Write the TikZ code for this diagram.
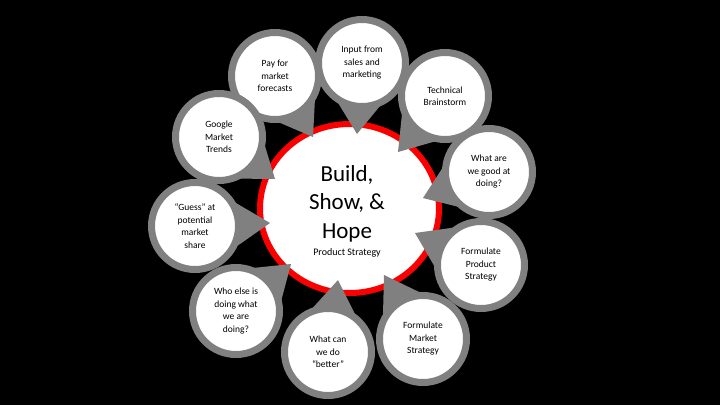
\documentclass[tikz,border=0pt]{standalone}
\usepackage{fontspec}
\setmainfont{Carlito}
\usetikzlibrary{calc,shapes.geometric}
\definecolor{ringgray}{RGB}{128,128,128}
\definecolor{ringred}{RGB}{250,0,0}

\begin{document}
\begin{tikzpicture}[x=1pt,y=-1pt,
    bubble/.style={circle,draw=ringgray,line width=7pt,fill=white,minimum size=87pt,inner sep=0pt,align=center,font=\fontsize{9.5}{12.5}\selectfont},
    wedge/.style={fill=ringgray}]
    \fill[black] (0,0) rectangle (720,405);
    \node[ellipse,draw=ringred,line width=6pt,fill=white,minimum width=179pt,minimum height=169pt] (core) at (349.5,208.5) {};
    \node[align=center,font=\fontsize{23}{28.5}\selectfont] (title) at (347,203.5) {Build,\\Show, \&\\Hope};
    \node[font=\fontsize{10}{12}\selectfont] (sub) at (347,253) {Product Strategy};
    \coordinate (payC) at (275,76);     \coordinate (payTip) at (313,137);
    \coordinate (inputC) at (362,63);   \coordinate (inputTip) at (357,134);
    \coordinate (techC) at (445,96);    \coordinate (techTip) at (398,152);
    \coordinate (goodC) at (489,172);   \coordinate (goodTip) at (423,198);
    \coordinate (prodC) at (481,265);   \coordinate (prodTip) at (415,233);
    \coordinate (mktC) at (423,339);    \coordinate (mktTip) at (384,275);
    \coordinate (betterC) at (328,352); \coordinate (betterTip) at (338,280);
    \coordinate (whoC) at (236,311);    \coordinate (whoTip) at (291,264);
    \coordinate (guessC) at (195,226);  \coordinate (guessTip) at (270,223);
    \coordinate (googleC) at (219,137); \coordinate (googleTip) at (275,179);
    \fill[wedge] (payTip) -- ($(payC)!43pt!38:(payTip)$) -- ($(payC)!43pt!-38:(payTip)$) -- cycle;
    \node[bubble] (pay) at (payC) {Pay for\\market\\forecasts};
    \fill[wedge] (inputTip) -- ($(inputC)!43pt!38:(inputTip)$) -- ($(inputC)!43pt!-38:(inputTip)$) -- cycle;
    \node[bubble] (input) at (inputC) {Input from\\sales and\\marketing};
    \fill[wedge] (techTip) -- ($(techC)!43pt!38:(techTip)$) -- ($(techC)!43pt!-38:(techTip)$) -- cycle;
    \node[bubble] (tech) at (techC) {Technical\\Brainstorm};
    \fill[wedge] (goodTip) -- ($(goodC)!43pt!38:(goodTip)$) -- ($(goodC)!43pt!-38:(goodTip)$) -- cycle;
    \node[bubble] (good) at (goodC) {What are\\we good at\\doing?};
    \fill[wedge] (prodTip) -- ($(prodC)!43pt!38:(prodTip)$) -- ($(prodC)!43pt!-38:(prodTip)$) -- cycle;
    \node[bubble] (prod) at (prodC) {Formulate\\Product\\Strategy};
    \fill[wedge] (mktTip) -- ($(mktC)!43pt!38:(mktTip)$) -- ($(mktC)!43pt!-38:(mktTip)$) -- cycle;
    \node[bubble] (mkt) at (mktC) {Formulate\\Market\\Strategy};
    \fill[wedge] (betterTip) -- ($(betterC)!43pt!38:(betterTip)$) -- ($(betterC)!43pt!-38:(betterTip)$) -- cycle;
    \node[bubble] (better) at (betterC) {What can\\we do\\“better”};
    \fill[wedge] (whoTip) -- ($(whoC)!43pt!38:(whoTip)$) -- ($(whoC)!43pt!-38:(whoTip)$) -- cycle;
    \node[bubble] (who) at (whoC) {Who else is\\doing what\\we are\\doing?};
    \fill[wedge] (guessTip) -- ($(guessC)!43pt!38:(guessTip)$) -- ($(guessC)!43pt!-38:(guessTip)$) -- cycle;
    \node[bubble] (guess) at (guessC) {“Guess” at\\potential\\market\\share};
    \fill[wedge] (googleTip) -- ($(googleC)!43pt!38:(googleTip)$) -- ($(googleC)!43pt!-38:(googleTip)$) -- cycle;
    \node[bubble] (google) at (googleC) {Google\\Market\\Trends};
\end{tikzpicture}
\end{document}
